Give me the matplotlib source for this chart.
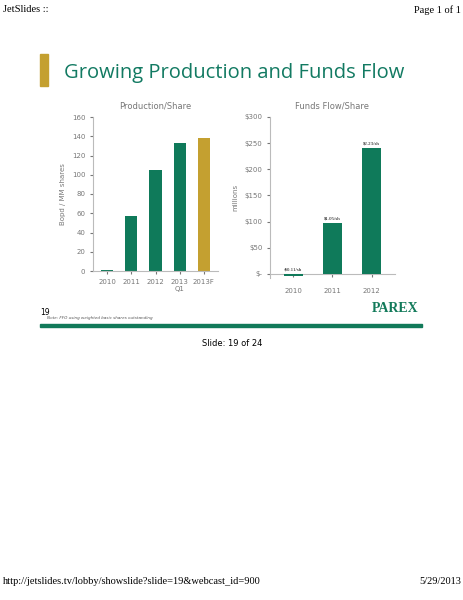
import matplotlib
matplotlib.use("Agg")
import matplotlib.pyplot as plt
from matplotlib.patches import Rectangle

prod_cats = ["2010", "2011", "2012", "2013\nQ1", "2013F"]
prod_vals = [1.5, 57, 105, 133, 138]
prod_colors = ["#0f7a5a", "#0f7a5a", "#0f7a5a", "#0f7a5a", "#c4a030"]
prod_ticks = [0, 20, 40, 60, 80, 100, 120, 140, 160]

ff_cats = ["2010", "2011", "2012"]
ff_vals = [-5, 98, 241]
ff_labels = ["-$0.11/sh", "$1.05/sh", "$2.23/sh"]
ff_ticks = [0, 50, 100, 150, 200, 250, 300]
ff_ticklabels = ["$-", "$50", "$100", "$150", "$200", "$250", "$300"]

W, H = 464, 600
fig = plt.figure(figsize=(W/100, H/100), dpi=100)
fig.patch.set_facecolor("white")

def ax_rect(x0, y0, x1, y1):
    return [x0/W, 1-y1/H, (x1-x0)/W, (y1-y0)/H]

fig.text(3/W, 1-10/H, "JetSlides ::", fontsize=7.5, family="Liberation Serif", va="center")
fig.text(461/W, 1-10/H, "Page 1 of 1", fontsize=7.5, family="Liberation Serif", va="center", ha="right")
fig.text(3/W, 1-582/H, "http://jetslides.tv/lobby/showslide?slide=19&webcast_id=900", fontsize=7.5, family="Liberation Serif", va="center")
fig.text(461/W, 1-582/H, "5/29/2013", fontsize=7.5, family="Liberation Serif", va="center", ha="right")
fig.text(232/W, 1-343/H, "Slide: 19 of 24", fontsize=6, va="center", ha="center")

fig.patches.append(Rectangle((40/W, 1-86/H), 8/W, 32/H, transform=fig.transFigure, color="#c4a030"))
fig.text(64/W, 1-73/H, "Growing Production and Funds Flow", fontsize=14.5, color="#127a62", va="center", family="Open Sans")
fig.patches.append(Rectangle((40/W, 1-327/H), 382/W, 3/H, transform=fig.transFigure, color="#127a5a"))
fig.text(40/W, 1-313/H, "19", fontsize=5.5, va="center")
fig.text(47/W, 1-318/H, "Note: FFO using weighted basic shares outstanding", fontsize=3, va="center", style="italic", color="#555555")
fig.text(395/W, 1-309/H, "PAREX", fontsize=10, fontweight="bold", color="#127a5a", va="center", ha="center", family="Liberation Serif")

grey = "#777777"
ax1 = fig.add_axes(ax_rect(93, 117, 218, 271))
ax1.bar(range(len(prod_cats)), prod_vals, color=prod_colors, width=0.5)
ax1.set_ylim(0, 160)
ax1.set_xlim(-0.6, 4.6)
ax1.set_yticks(prod_ticks)
ax1.set_xticks(range(len(prod_cats)))
ax1.set_xticklabels(prod_cats)
ax1.set_title("Production/Share", fontsize=6, color=grey, pad=6)
ax1.set_ylabel("Bopd / MM shares", fontsize=5, color=grey)
for s in ["top", "right"]:
    ax1.spines[s].set_visible(False)
ax1.tick_params(labelsize=5, colors=grey, length=2)
for s in ["left", "bottom"]:
    ax1.spines[s].set_color("#bbbbbb")

ax2 = fig.add_axes(ax_rect(270, 117, 395, 278))
ax2.bar(range(len(ff_cats)), ff_vals, color="#0f7a5a", width=0.5, zorder=3)
ax2.set_ylim(-8, 300)
ax2.set_xlim(-0.6, 2.6)
ax2.set_yticks(ff_ticks)
ax2.set_yticklabels(ff_ticklabels)
ax2.set_xticks(range(len(ff_cats)))
ax2.set_xticklabels(ff_cats)
ax2.set_title("Funds Flow/Share", fontsize=6, color=grey, pad=6)
ax2.set_ylabel("millions", fontsize=5, color=grey)
ax2.spines["bottom"].set_position(("data", 0))
for s in ["top", "right"]:
    ax2.spines[s].set_visible(False)
for s in ["left", "bottom"]:
    ax2.spines[s].set_color("#bbbbbb")
ax2.tick_params(labelsize=5, colors=grey, length=2)
ax2.tick_params(axis="x", pad=8)
for i, (v, lab) in enumerate(zip(ff_vals, ff_labels)):
    ax2.text(i, max(v, 0) + 4, lab, ha="center", va="bottom", fontsize=3.5, family="Liberation Serif")

fig.savefig("out.png", dpi=100)
